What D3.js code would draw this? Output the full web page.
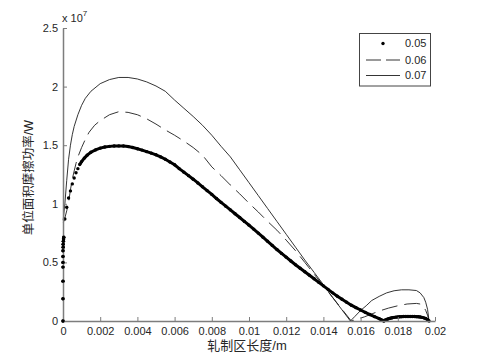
<!DOCTYPE html>
<html><head><meta charset="utf-8">
<script src="https://cdn.jsdelivr.net/npm/d3@7"></script>
<style>body{margin:0;background:#fff}svg{display:block}</style>
</head><body>
<svg id="c" width="480" height="360"></svg>
<script>
const xTicks = [0,0.002,0.004,0.006,0.008,0.01,0.012,0.014,0.016,0.018,0.02];
const yTicks = [0,0.5,1,1.5,2,2.5];
const seriesNames = ["0.05","0.06","0.07"];
const xLabel = "轧制区长度/m";
const yLabel = "单位面积摩擦功率/W";

// f = 0.05 (marker series), x in m, y in 1e7 W
const x05 = [0,0,0,0,0,0,0,0.00001,0.00001,0.00002,0.00003,0.00004,
  0.0001,0.0002,0.0003,0.0004,0.0005,0.0006,0.0007,0.0008,0.0009,0.001,0.00115,0.0013,0.0015,0.00175,
  0.002,0.00225,0.0025,0.00275,0.003,0.00325,0.0035,0.00375,0.004,0.00425,0.0045,0.00475,0.005,0.00525,
  0.0055,0.00575,0.006,0.00625,0.0065,0.00675,0.007,0.00725,0.0075,0.00775,0.008,0.00825,0.0085,0.00875,
  0.009,0.00925,0.0095,0.00975,0.01,0.01025,0.0105,0.01075,0.011,0.01125,0.0115,0.01175,0.012,0.01225,
  0.0125,0.01275,0.013,0.01325,0.0135,0.01375,0.014,0.01425,0.0145,0.01475,0.015,0.01525,0.0155,0.01575,
  0.016,0.01625,0.0165,0.01675,0.017,0.0171,0.0172,0.01725,
  0.0173,0.0174,0.0175,0.0176,0.0177,0.0178,0.0179,0.018,0.0181,0.0182,0.0183,0.0184,0.0185,0.0186,
  0.0187,0.0188,0.0189,0.019,0.0191,0.0192,0.0193,0.0194,0.0195,0.0196,0.01968];
const y05 = [0,0.19,0.34,0.46,0.50,0.55,0.60,0.63,0.655,0.68,0.70,0.715,
  0.87,0.97,1.05,1.11,1.17,1.22,1.265,1.30,1.335,1.36,1.39,1.415,1.44,1.46,
  1.475,1.485,1.49,1.493,1.494,1.493,1.488,1.48,1.47,1.458,1.445,1.432,1.418,1.40,
  1.38,1.357,1.333,1.30,1.27,1.24,1.21,1.178,1.145,1.112,1.08,1.045,1.012,0.98,
  0.948,0.915,0.883,0.85,0.818,0.784,0.75,0.715,0.68,0.645,0.61,0.577,0.545,0.512,
  0.48,0.45,0.42,0.39,0.36,0.33,0.30,0.27,0.24,0.212,0.185,0.16,0.135,0.114,
  0.094,0.074,0.055,0.037,0.02,0.012,0.004,0,
  0.006,0.013,0.019,0.024,0.028,0.031,0.033,0.035,0.036,0.037,0.038,0.038,0.039,0.039,
  0.039,0.038,0.038,0.037,0.036,0.034,0.031,0.027,0.021,0.012,0];

// f = 0.06 (dashed)
const x06 = [0.00002,0.0001,0.0002,0.0003,0.0004,0.0005,0.0006,0.0007,0.0008,0.001,0.0012,0.0014,0.0017,
  0.002,0.0025,0.003,0.0035,0.004,0.0045,0.005,0.0055,0.006,0.0065,0.007,0.0075,0.008,0.0085,0.009,
  0.0095,0.01,0.0105,0.011,0.0115,0.012,0.0125,0.013,0.0135,0.014,0.0145,0.015,0.0155,
  0.0158,0.0162,0.0166,0.017,0.0175,0.018,0.0185,0.019,0.0192,0.0194,0.0195,0.0196,0.01968];
const y06 = [0.84,0.88,0.94,1.01,1.12,1.21,1.28,1.345,1.40,1.48,1.55,1.61,1.67,
  1.71,1.76,1.786,1.78,1.76,1.725,1.68,1.63,1.585,1.535,1.48,1.415,1.315,1.24,1.16,
  1.085,1.005,0.93,0.85,0.775,0.69,0.60,0.50,0.40,0.30,0.20,0.10,0,
  0.015,0.035,0.06,0.085,0.11,0.13,0.145,0.15,0.145,0.12,0.09,0.05,0];

// f = 0.07 (solid)
const x07 = [0.00001,0.0001,0.0002,0.0003,0.0004,0.0005,0.0006,0.0008,0.001,0.0012,0.0015,0.002,0.0025,
  0.003,0.0035,0.004,0.0045,0.005,0.0055,0.006,0.0065,0.007,0.0075,0.008,0.0085,0.009,0.0095,0.01,
  0.0105,0.011,0.0115,0.012,0.0125,0.013,0.0135,0.014,0.0145,0.015,0.01545,
  0.0157,0.016,0.0163,0.0166,0.017,0.0174,0.0178,0.0182,0.0186,0.019,0.0192,0.0194,0.0195,0.0196,0.01968];
const y07 = [0.86,1.0,1.2,1.38,1.50,1.59,1.66,1.76,1.84,1.90,1.96,2.025,2.06,
  2.078,2.078,2.065,2.04,2.005,1.96,1.885,1.815,1.745,1.67,1.585,1.49,1.40,1.29,1.18,
  1.07,0.96,0.85,0.74,0.63,0.52,0.415,0.31,0.20,0.095,0,
  0.04,0.09,0.13,0.175,0.21,0.24,0.258,0.266,0.266,0.26,0.24,0.20,0.16,0.10,0];

const svg = d3.select("#c");
const x = d3.scaleLinear().domain([0,0.02]).range([63,435]);
const y = d3.scaleLinear().domain([0,2.5]).range([321,28]);
const latin = "'Liberation Sans', Arial, sans-serif";
const cjk = "'Liberation Sans', 'Noto Sans CJK SC', sans-serif";
const axisCol = "#7d7d7d", textCol = "#262626";

const zip = (xs, ys) => xs.map((v,i) => ({x:v, y:ys[i]}));
const d05 = zip(x05,y05), d06 = zip(x06,y06), d07 = zip(x07,y07);
const line = d3.line().x(d => x(d.x)).y(d => y(d.y));

// series
svg.append("path").attr("d", line(d07)).attr("fill","none")
  .attr("stroke","#1e1e1e").attr("stroke-width",0.9);
svg.append("path").attr("d", line(d06)).attr("fill","none")
  .attr("stroke","#1e1e1e").attr("stroke-width",0.9).attr("stroke-dasharray","16,7");
svg.append("path").attr("d", line(d05.filter(d => d.x >= 0.0009))).attr("fill","none")
  .attr("stroke","#000").attr("stroke-width",3);
svg.append("g").selectAll("circle").data(d05).join("circle")
  .attr("cx", d => x(d.x)).attr("cy", d => y(d.y)).attr("r",1.7).attr("fill","#000");

// axes
const gx = svg.append("g").attr("transform","translate(0,321)")
  .call(d3.axisBottom(x).tickValues(xTicks).tickSizeInner(-4).tickSizeOuter(0).tickPadding(6)
    .tickFormat(d => String(+d.toFixed(3))));
const gy = svg.append("g").attr("transform","translate(63,0)")
  .call(d3.axisLeft(y).tickValues(yTicks).tickSizeInner(-4).tickSizeOuter(0).tickPadding(5)
    .tickFormat(d => String(d)));
[gx,gy].forEach(g => {
  g.select(".domain").attr("stroke",axisCol).attr("stroke-width",1.5);
  g.selectAll(".tick line").attr("stroke",axisCol).attr("stroke-width",1);
  g.selectAll(".tick text").attr("fill",textCol).style("font-family",latin).style("font-size","11px");
});
// markers at x=0 drawn above the axis line
svg.append("g").selectAll("circle").data(d05.filter(d => d.x < 0.0001)).join("circle")
  .attr("cx", d => x(d.x)).attr("cy", d => y(d.y)).attr("r",1.7).attr("fill","#000");

// exponent
const ex = svg.append("text").attr("x",62).attr("y",22).attr("fill",textCol)
  .style("font-family",latin).style("font-size","11px");
ex.append("tspan").text("x 10");
ex.append("tspan").attr("dy",-6).style("font-size","8px").text("7");

// axis labels
svg.append("text").attr("x",247).attr("y",349.5).attr("text-anchor","middle")
  .attr("fill",textCol).style("font-family",cjk).style("font-size","13px").text(xLabel);
svg.append("text").attr("transform","translate(33,177.5) rotate(-90)").attr("text-anchor","middle")
  .attr("fill",textCol).style("font-family",cjk).style("font-size","12.5px").text(yLabel);

// legend
const lg = svg.append("g");
lg.append("rect").attr("x",359.5).attr("y",33.5).attr("width",71).attr("height",52.5)
  .attr("fill","#fff").attr("stroke","#444").attr("stroke-width",1);
const rows = [43.5,60,75.5];
lg.append("circle").attr("cx",383).attr("cy",rows[0]).attr("r",1.7).attr("fill","#000");
lg.append("line").attr("x1",366).attr("x2",400).attr("y1",rows[1]).attr("y2",rows[1])
  .attr("stroke","#1e1e1e").attr("stroke-width",0.9).attr("stroke-dasharray","15,5");
lg.append("line").attr("x1",366).attr("x2",400).attr("y1",rows[2]).attr("y2",rows[2])
  .attr("stroke","#1e1e1e").attr("stroke-width",0.9);
lg.selectAll("text.l").data(seriesNames).join("text").attr("class","l")
  .attr("x",405).attr("y",(d,i) => rows[i]).attr("dy","0.35em").attr("fill",textCol)
  .style("font-family",latin).style("font-size","11px").text(d => d);
</script>
</body></html>
